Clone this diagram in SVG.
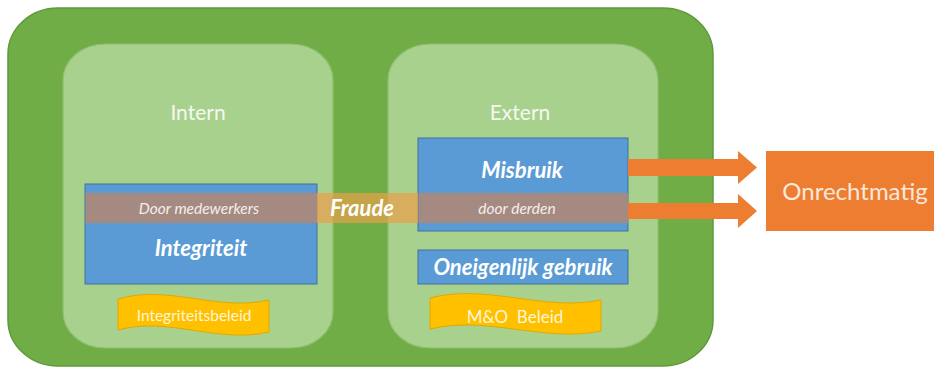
<svg xmlns="http://www.w3.org/2000/svg" width="934" height="370" viewBox="0 0 934 370">
<style>
.outer{fill:#70AD47;stroke:#5E9A3A;stroke-width:1.5}
.panel{fill:#A9D18E;stroke:#8DBE6E;stroke-width:1.2}
.blue{fill:#5B9BD5;stroke:#41719C;stroke-width:1}
.band{fill:#A58A82}
.banner{fill:#FFC000;stroke:#E0A800;stroke-width:1}
.arrow{fill:#ED7D31}
.t{font-family:Lato,"Open Sans","Noto Sans",sans-serif;fill:#FFFFFF;text-anchor:middle}
.hd{font-family:Lato,"Open Sans","Noto Sans",sans-serif;font-size:21px;fill:#F4F9F0;text-anchor:middle}
.bi{font-weight:bold;font-style:italic;font-size:22px}
.it{font-style:italic;font-size:15.5px;fill:#F3EEEA}
.bn{font-size:15.5px;fill:#FFF6DA}
</style>
<g id="outer"><rect class="outer" x="8" y="8" width="705" height="358" rx="50" ry="46"/></g>
<g id="intern">
<rect class="panel" x="63" y="44" width="270" height="304" rx="42" ry="36"/>
<text class="hd" x="198" y="120">Intern</text>
</g>
<g id="extern">
<rect class="panel" x="388" y="44" width="270" height="304" rx="42" ry="36"/>
<text class="hd" x="520" y="120">Extern</text>
</g>
<g id="integriteit">
<rect class="blue" x="85" y="184" width="232" height="100"/>
<rect class="band" x="85.5" y="193" width="231.5" height="30"/>
<text class="t it" x="199" y="214">Door medewerkers</text>
<text class="t bi" x="201" y="256">Integriteit</text>
</g>
<g id="misbruik">
<rect class="blue" x="418" y="138" width="210" height="93"/>
<rect class="band" x="418.5" y="193" width="209.5" height="30"/>
<text class="t bi" x="522" y="178">Misbruik</text>
<text class="t it" x="517" y="214">door derden</text>
</g>
<g id="fraude">
<rect x="317" y="193" width="101" height="30" fill="#E9A048" fill-opacity="0.7"/>
<text class="t bi" x="362" y="216">Fraude</text>
</g>
<g id="oneigenlijk">
<rect class="blue" x="418" y="250" width="210" height="34"/>
<text class="t bi" x="523" y="275">Oneigenlijk gebruik</text>
</g>
<g id="integriteitsbeleid">
<path class="banner" d="M118,299 C168,284 218,312 269,300 L269,332 C218,344 168,316 118,330 Z"/>
<text class="t bn" x="194" y="321">Integriteitsbeleid</text>
</g>
<g id="mo-beleid">
<path class="banner" d="M430,298 C487,283 544,312 601,300 L601,331 C544,343 487,315 430,329 Z"/>
<text class="t bn" x="515" y="323" style="font-size:17px;white-space:pre">M&amp;O  Beleid</text>
</g>
<g id="connectors">
<polygon class="arrow" points="628,159 738,159 738,151 757,167.5 738,184 738,176 628,176"/>
<polygon class="arrow" points="628,203 738,203 738,194 757,211 738,228 738,219 628,219"/>
</g>
<g id="onrechtmatig">
<rect x="766" y="151" width="170" height="80" fill="#ED7D31"/>
<text class="t" x="855" y="200" style="font-size:24px;fill:#FBE8DA">Onrechtmatig</text>
</g>
</svg>
